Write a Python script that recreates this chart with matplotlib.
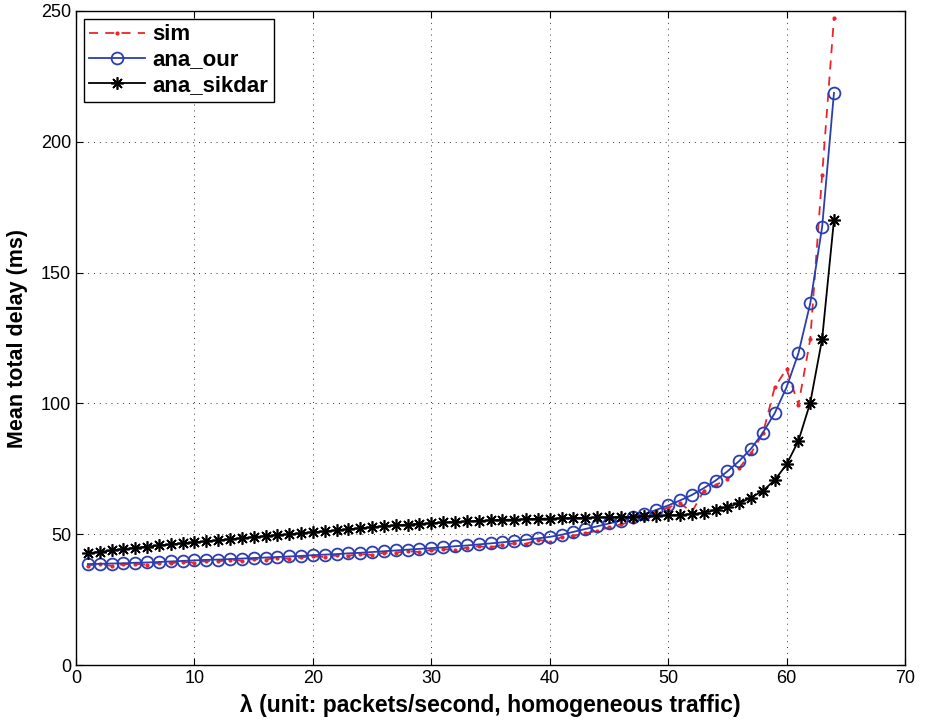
import matplotlib
matplotlib.use("Agg")
import matplotlib.pyplot as plt
import numpy as np

# arrival rate (packets/second)
lam = list(range(1, 65))

sim = [38.0, 38.6, 37.9, 38.5, 38.7, 38.3, 39.0, 38.9, 39.4, 39.1,
       39.8, 39.6, 40.2, 39.9, 40.5, 40.3, 41.0, 40.6, 41.2, 41.5,
       41.3, 41.9, 41.8, 42.4, 42.1, 42.9, 43.0, 43.5, 43.2, 44.0,
       44.3, 44.1, 44.9, 45.4, 45.0, 46.0, 46.5, 46.3, 47.9, 47.1,
       48.9, 49.5, 50.3, 51.4, 52.6, 53.8, 54.8, 56.2, 58.8, 60.2,
       61.8, 58.5, 66.5, 68.8, 71.0, 75.3, 81.0, 88.5, 106.2, 113.2,
       99.5, 124.6, 187.3, 247.2]

ana_our = [38.6, 38.7, 38.8, 38.9, 39.1, 39.2, 39.4, 39.6, 39.8, 40.0,
           40.2, 40.3, 40.5, 40.7, 40.9, 41.1, 41.3, 41.5, 41.7, 42.0,
           42.2, 42.4, 42.7, 42.9, 43.2, 43.5, 43.8, 44.1, 44.4, 44.7,
           45.0, 45.4, 45.7, 46.1, 46.5, 46.9, 47.4, 47.9, 48.4, 49.0,
           49.8, 50.9, 52.0, 53.0, 54.1, 55.2, 56.4, 57.8, 59.3, 61.0,
           62.9, 65.0, 67.6, 70.5, 74.0, 78.0, 82.7, 88.8, 96.3, 106.2,
           119.2, 138.3, 167.4, 218.7]

ana_sikdar = [42.7, 43.3, 43.8, 44.3, 44.8, 45.3, 45.7, 46.1, 46.5, 46.9,
              47.3, 47.7, 48.1, 48.5, 48.9, 49.3, 49.7, 50.0, 50.4, 50.8,
              51.1, 51.5, 51.9, 52.3, 52.7, 53.1, 53.4, 53.7, 54.0, 54.2,
              54.5, 54.7, 54.9, 55.1, 55.3, 55.5, 55.6, 55.8, 55.9, 56.0,
              56.1, 56.2, 56.3, 56.4, 56.5, 56.6, 56.7, 56.8, 57.0, 57.2,
              57.4, 57.7, 58.2, 59.3, 60.5, 61.8, 64.0, 66.6, 70.7, 76.7,
              85.7, 100.3, 124.6, 170.1]

xticks = [0, 10, 20, 30, 40, 50, 60, 70]
yticks = [0, 50, 100, 150, 200, 250]

plt.rcParams['font.family'] = ['Liberation Sans', 'DejaVu Sans']

fig = plt.figure(figsize=(9.25, 7.22), dpi=100)
ax = fig.add_axes([0.0822, 0.0789, 0.8962, 0.9059])

# asterisk marker: eight spokes
asterisk = (8, 2, 0)

ax.plot(lam, sim, color='#e8262a', linestyle=(0, (5, 4)), linewidth=1.3,
        marker='.', markersize=4, label='sim')
ax.plot(lam, ana_our, color='#2a3eb1', linestyle='-', linewidth=1.3,
        marker='o', markersize=8.5, markerfacecolor='none',
        markeredgewidth=1.3, label='ana_our')
ax.plot(lam, ana_sikdar, color='black', linestyle='-', linewidth=1.3,
        marker=asterisk, markersize=9, markeredgewidth=1.2, label='ana_sikdar')

ax.set_xlim(0, 70)
ax.set_ylim(0, 250)
ax.set_xticks(xticks)
ax.set_yticks(yticks)
ax.tick_params(direction='in', top=True, right=True, labelsize=13, length=5)
ax.grid(True, color='black', linestyle=(0, (1, 5)), linewidth=0.7, alpha=0.8)
for s in ax.spines.values():
    s.set_linewidth(1.0)

ax.set_xlabel('λ (unit: packets/second, homogeneous traffic)',
              fontsize=16.5, fontweight='bold', labelpad=5)
ax.set_ylabel('Mean total delay (ms)', fontsize=15.5, fontweight='bold',
              labelpad=9)

leg = ax.legend(loc='upper left', fancybox=False, framealpha=1,
                edgecolor='black', borderaxespad=0.35, handlelength=2.5,
                prop={'weight': 'bold', 'size': 16},
                borderpad=0.25, labelspacing=0.2, handletextpad=0.35)
leg.get_frame().set_linewidth(1.0)

fig.savefig('out.png', dpi=100)
